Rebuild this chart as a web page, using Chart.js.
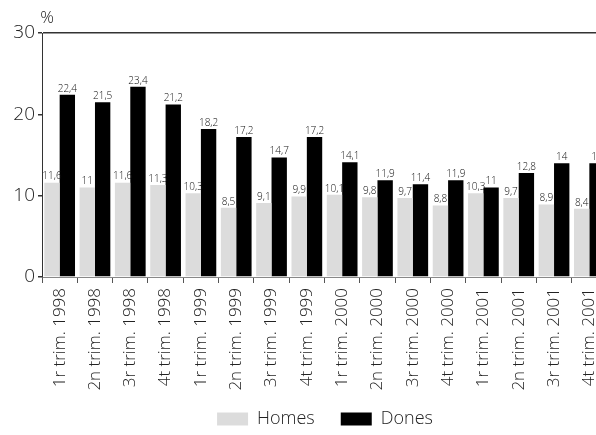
<!DOCTYPE html>
<html>
<head>
<meta charset="utf-8">
<script src="https://cdn.jsdelivr.net/npm/chart.js@4/dist/chart.umd.min.js"></script>
<style>
html,body{margin:0;padding:0;background:#fff;overflow:hidden;width:596px;height:435px;}
#wrap{width:650px;height:435px;}
</style>
</head>
<body>
<div id="wrap"><canvas id="c" width="650" height="435"></canvas></div>
<script>
const categories = ["1r trim. 1998","2n trim. 1998","3r trim. 1998","4t trim. 1998",
  "1r trim. 1999","2n trim. 1999","3r trim. 1999","4t trim. 1999",
  "1r trim. 2000","2n trim. 2000","3r trim. 2000","4t trim. 2000",
  "1r trim. 2001","2n trim. 2001","3r trim. 2001","4t trim. 2001"];
const homes = [11.6, 11, 11.6, 11.3, 10.3, 8.5, 9.1, 9.9, 10.1, 9.8, 9.7, 8.8, 10.3, 9.7, 8.9, 8.4];
const dones = [22.4, 21.5, 23.4, 21.2, 18.2, 17.2, 14.7, 17.2, 14.1, 11.9, 11.4, 11.9, 11, 12.8, 14, 14];
const yTicks = [0, 10, 20, 30];
const unitLabel = "%";

const FONT = "'Open Sans', 'Noto Sans', sans-serif";
const W = 300;

const valueLabels = {
  id: 'valueLabels',
  afterLayout(chart) {
    // let the rotated category labels run below the axis box without being clipped
    chart.scales.x._computeLabelArea = function () { return undefined; };
  },
  afterDatasetsDraw(chart) {
    const ctx = chart.ctx;
    ctx.save();
    ctx.font = W + " 10px " + FONT;
    ctx.fillStyle = "#111";
    ctx.textAlign = "center";
    ctx.textBaseline = "bottom";
    chart.data.datasets.forEach((ds, i) => {
      const meta = chart.getDatasetMeta(i);
      meta.data.forEach((el, j) => {
        const v = ds.data[j];
        ctx.fillText(String(v).replace('.', ','), el.x, el.y - 1);
      });
    });
    const ys = chart.scales.y;
    ctx.font = W + " 17px " + FONT;
    ctx.fillStyle = "#222";
    ctx.textAlign = "center";
    ctx.textBaseline = "bottom";
    ctx.fillText(unitLabel, ys.right + 5, ys.top - 6);
    ctx.restore();
  }
};

new Chart(document.getElementById('c'), {
  type: 'bar',
  data: {
    labels: categories,
    datasets: [
      { label: 'Homes', data: homes, backgroundColor: '#dcdcdc', borderWidth: 0 },
      { label: 'Dones', data: dones, backgroundColor: '#000000', borderWidth: 0 }
    ]
  },
  options: {
    responsive: false,
    animation: false,
    layout: { padding: { top: 33, right: 0, left: 0, bottom: -3 } },
    datasets: { bar: { categoryPercentage: 0.87, barPercentage: 1.0 } },
    plugins: {
      legend: {
        position: 'bottom',
        labels: {
          boxWidth: 31, boxHeight: 13, padding: 26,
          font: { size: 18, family: FONT, weight: W }, color: '#222'
        }
      },
      tooltip: { enabled: false }
    },
    scales: {
      x: {
        offset: true,
        grid: { offset: true, drawOnChartArea: false, tickLength: 6, color: '#555', tickColor: '#555' },
        border: { color: '#888', width: 1 },
        ticks: { maxRotation: 90, minRotation: 90, autoSkip: false, font: { size: 17, family: FONT, weight: W }, color: '#222', padding: 5 },
        afterFit(s) { s.height = 107; }
      },
      y: {
        min: 0, max: 30,
        afterBuildTicks(s) { s.ticks = yTicks.map(v => ({ value: v })); },
        grid: {
          drawOnChartArea: true,
          color: (c) => (c.tick && c.tick.value === 30) ? '#333' : 'rgba(0,0,0,0)',
          lineWidth: 1.5,
          tickLength: 4, tickColor: '#333'
        },
        border: { color: '#333', width: 1 },
        ticks: { font: { size: 19, family: FONT, weight: W }, color: '#222', padding: 3 },
        afterFit(s) { s.width = 42; }
      },
      yRightSpace: {
        position: 'right',
        display: true,
        min: 0, max: 30,
        grid: { display: false, drawOnChartArea: false },
        border: { display: false },
        ticks: { display: false },
        afterFit(s) { s.width = 43; }
      }
    }
  },
  plugins: [valueLabels]
});
</script>
</body>
</html>
